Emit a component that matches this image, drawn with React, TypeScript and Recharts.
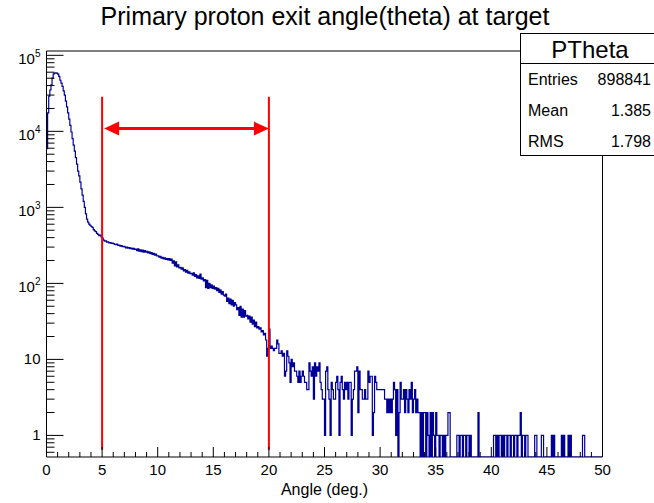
import { ComposedChart, Line, XAxis, YAxis, ReferenceLine, ReferenceArea } from "recharts";

const FONT = "'Liberation Sans', Arial, Helvetica, sans-serif";

// histogram: 500 bins of 0.1 deg from 0 to 50
const BIN_WIDTH = 0.1;
const X_MIN = 0;
const X_MAX = 50;
const Y_MIN = 0.52;
const Y_MAX = 1.14e5;

// 0.0 - 4.9 deg
const peakCounts = [
  5900, 17500, 29000, 35000, 41000, 50000, 57000, 58500, 59000, 58500,
  56500, 53000, 47000, 43000, 39000, 34000, 30000, 25000, 21000, 17500,
  14500, 12000, 9800, 8000, 6600, 5500, 4500, 3700, 3000, 2600,
  2150, 1750, 1450, 1200, 1000, 820, 700, 640, 600, 580,
  560, 545, 510, 490, 480, 455, 440, 425, 430, 410,
];

// 5.0 - 19.9 deg
const plateauCounts = [
  395, 370, 358, 362, 348, 352, 340, 345, 336, 338,
  334, 326, 322, 328, 316, 320, 308, 314, 304, 308,
  302, 294, 300, 290, 296, 286, 292, 282, 288, 280,
  282, 270, 284, 265, 276, 262, 274, 258, 270, 258,
  264, 252, 260, 246, 254, 240, 248, 236, 242, 230,
  230, 222, 226, 214, 220, 210, 216, 206, 212, 204,
  212, 200, 208, 185, 198, 170, 192, 165, 175, 160,
  162, 154, 160, 146, 152, 140, 148, 136, 142, 134,
  136, 128, 138, 124, 130, 118, 126, 116, 132, 114,
  118, 108, 112, 88, 110, 86, 100, 88, 96, 86,
  92, 84, 88, 80, 86, 76, 82, 72, 78, 70,
  68, 72, 58, 64, 54, 62, 52, 60, 50, 56,
  52, 45, 48, 38, 50, 36, 46, 36, 44, 37,
  38, 34, 37, 31, 36, 29, 33, 27, 31, 26,
  27, 25, 26, 23, 24, 21, 22, 18, 11, 14,
];

// 20.0 - 34.9 deg
const tailCounts = [
  25, 14, 15, 14, 13, 14, 14, 18, 16, 12,
  12, 13, 11, 12, 6, 7, 13, 11, 9, 5,
  10, 8, 9, 7, 7, 6, 5, 7, 5, 6,
  7, 6, 5, 5, 4, 4, 9, 7, 6, 8,
  3, 9, 6, 8, 7, 9, 5, 4, 3, 3,
  1, 7, 8, 4, 3, 1, 5, 4, 3, 3,
  5, 6, 4, 1, 5, 6, 4, 3, 5, 4,
  5, 3, 5, 5, 1, 3, 4, 7, 7, 8,
  2, 7, 4, 4, 3, 3, 4, 3, 3, 7,
  5, 6, 6, 1, 2, 6, 5, 4, 4, 4,
  4, 4, 4, 4, 3, 3, 2, 3, 2, 3,
  2, 3, 5, 4, 1, 4, 0, 2, 5, 3,
  3, 4, 2, 4, 3, 2, 4, 3, 5, 2,
  3, 4, 2, 3, 2, 2, 0, 2, 0, 2,
  2, 0, 2, 1, 0, 2, 0, 2, 1, 0,
];

// 35.0 - 49.9 deg
const farTailCounts = [
  2, 1, 1, 0, 1, 1, 0, 1, 0, 1,
  1, 2, 2, 0, 0, 0, 0, 0, 0, 1,
  1, 0, 1, 1, 0, 1, 1, 0, 1, 1,
  0, 1, 0, 0, 0, 0, 0, 0, 2, 0,
  0, 0, 0, 0, 0, 0, 0, 0, 0, 0,
  0, 0, 1, 1, 0, 1, 0, 1, 1, 0,
  1, 0, 1, 1, 0, 1, 1, 0, 1, 1,
  0, 1, 1, 0, 1, 1, 2, 0, 1, 1,
  0, 1, 1, 0, 0, 0, 0, 0, 0, 1,
  1, 0, 0, 0, 0, 1, 1, 0, 0, 0,
  0, 0, 0, 0, 1, 0, 1, 0, 0, 0,
  0, 0, 0, 1, 0, 1, 0, 0, 0, 1,
  0, 1, 0, 0, 0, 0, 0, 0, 0, 0,
  0, 0, 1, 1, 0, 0, 0, 0, 0, 0,
  0, 0, 0, 0, 0, 0, 0, 0, 0, 0,
];

const xMajorTicks = [0, 5, 10, 15, 20, 25, 30, 35, 40, 45, 50];
const yDecades = [1, 10, 100, 1000, 10000, 100000];

// cut window markers
const cutLow = 5;
const cutHigh = 20;
const cutLineBottom = 0.65;
const cutLineTop = 28600;
const arrowLevel = 10860;

const statLabels = ["Entries", "Mean", "RMS"];
const statValues = ["898841", "1.385", "1.798"];

const counts = [...peakCounts, ...plateauCounts, ...tailCounts, ...farTailCounts];
const histData = counts.map((c, i) => ({ angle: +(i * BIN_WIDTH).toFixed(1), count: c }));
histData.push({ angle: X_MAX, count: counts[counts.length - 1] });

const xTicks: number[] = [];
for (let v = X_MIN; v <= X_MAX; v++) xTicks.push(v);

const yTicks: number[] = [];
[0.1, ...yDecades].forEach((d) => {
  for (let m = 1; m <= 9; m++) {
    const v = m * d;
    if (v >= Y_MIN && v <= Y_MAX) yTicks.push(v);
  }
});

function XTick(props: any) {
  const { x, y, payload } = props;
  const v = payload.value as number;
  const major = xMajorTicks.includes(v);
  return (
    <g>
      <line x1={x} x2={x} y1={y} y2={y - (major ? 10 : 5)} stroke="#000" />
      {major && (
        <text x={x} y={y + 18} textAnchor="middle" fontSize={15} fontFamily={FONT} fill="#000">
          {v}
        </text>
      )}
    </g>
  );
}

function YTick(props: any) {
  const { x, y, payload } = props;
  const v = payload.value as number;
  const exp = Math.round(Math.log10(v));
  const decade = yDecades.includes(v);
  let label = null;
  if (decade) {
    if (exp >= 2) {
      label = (
        <text x={x - 6} y={y + 9} textAnchor="end" fontSize={15} fontFamily={FONT} fill="#000">
          <tspan>10</tspan>
          <tspan dy={-7} fontSize={10}>{exp}</tspan>
        </text>
      );
    } else {
      label = (
        <text x={x - 6} y={y + 5} textAnchor="end" fontSize={15} fontFamily={FONT} fill="#000">
          {exp === 1 ? "10" : "1"}
        </text>
      );
    }
  }
  return (
    <g>
      <line x1={x} x2={x + (decade ? 17 : 8)} y1={y} y2={y} stroke="#000" />
      {label}
    </g>
  );
}

function ArrowShape(props: any) {
  const { x1, y1, x2 } = props;
  const left = Math.min(x1, x2) + 2;
  const right = Math.max(x1, x2);
  const head = 15;
  const half = 7;
  return (
    <g>
      <line x1={left + head - 2} y1={y1} x2={right - head + 2} y2={y1} stroke="#ff0000" strokeWidth={3} />
      <polygon points={`${left},${y1} ${left + head},${y1 - half} ${left + head},${y1 + half}`} fill="#ff0000" />
      <polygon points={`${right},${y1} ${right - head},${y1 - half} ${right - head},${y1 + half}`} fill="#ff0000" />
    </g>
  );
}

export default function App() {
  return (
    <div style={{ position: "absolute", left: 0, top: 0, width: 654, height: 503, background: "#fff" }}>
      <ComposedChart
        width={654}
        height={503}
        data={histData}
        margin={{ top: 51, right: 51.5, bottom: 0, left: 0 }}
        style={{ fontFamily: FONT }}
      >
        <XAxis
          dataKey="angle"
          type="number"
          domain={[X_MIN, X_MAX]}
          ticks={xTicks}
          interval={0}
          allowDataOverflow
          height={46}
          tickSize={0}
          tickMargin={0}
          tickLine={false}
          axisLine={false}
          tick={<XTick />}
          label={{ value: "Angle (deg.)", position: "insideBottom", offset: 8, fontSize: 16, fill: "#000", fontFamily: FONT }}
        />
        <YAxis
          scale="log"
          type="number"
          domain={[Y_MIN, Y_MAX]}
          ticks={yTicks}
          interval={0}
          allowDataOverflow
          width={46.5}
          tickSize={0}
          tickMargin={0}
          tickLine={false}
          axisLine={false}
          tick={<YTick />}
        />
        <ReferenceArea x1={X_MIN} x2={X_MAX} y1={Y_MIN} y2={Y_MAX} fill="none" stroke="#000" strokeWidth={1} fillOpacity={0} />
        <Line
          type="stepAfter"
          dataKey={(d: any) => (d.count > 0 ? d.count : Y_MIN)}
          stroke="#000099"
          strokeWidth={1.2}
          dot={false}
          activeDot={false}
          isAnimationActive={false}
        />
        <ReferenceLine segment={[{ x: cutLow, y: cutLineBottom }, { x: cutLow, y: cutLineTop }]} stroke="#ff0000" strokeWidth={2} />
        <ReferenceLine segment={[{ x: cutHigh, y: cutLineBottom }, { x: cutHigh, y: cutLineTop }]} stroke="#ff0000" strokeWidth={2} />
        <ReferenceLine segment={[{ x: cutLow, y: arrowLevel }, { x: cutHigh, y: arrowLevel }]} shape={ArrowShape} />
      </ComposedChart>
      <svg width={654} height={503} style={{ position: "absolute", left: 0, top: 0, pointerEvents: "none" }}>
        <text x={325} y={25} textAnchor="middle" fontSize={25} fontFamily={FONT} fill="#000">
          Primary proton exit angle(theta) at target
        </text>
        <rect x={520.5} y={33.5} width={140} height={122} fill="#fff" stroke="#000" />
        <line x1={520.5} x2={660} y1={63.5} y2={63.5} stroke="#000" />
        <text x={590} y={58} textAnchor="middle" fontSize={24} fontFamily={FONT} fill="#000">
          PTheta
        </text>
        {statLabels.map((s, i) => (
          <g key={s}>
            <text x={528} y={85 + i * 31} fontSize={16} fontFamily={FONT} fill="#000">
              {s}
            </text>
            <text x={651} y={85 + i * 31} textAnchor="end" fontSize={16} fontFamily={FONT} fill="#000">
              {statValues[i]}
            </text>
          </g>
        ))}
      </svg>
    </div>
  );
}
